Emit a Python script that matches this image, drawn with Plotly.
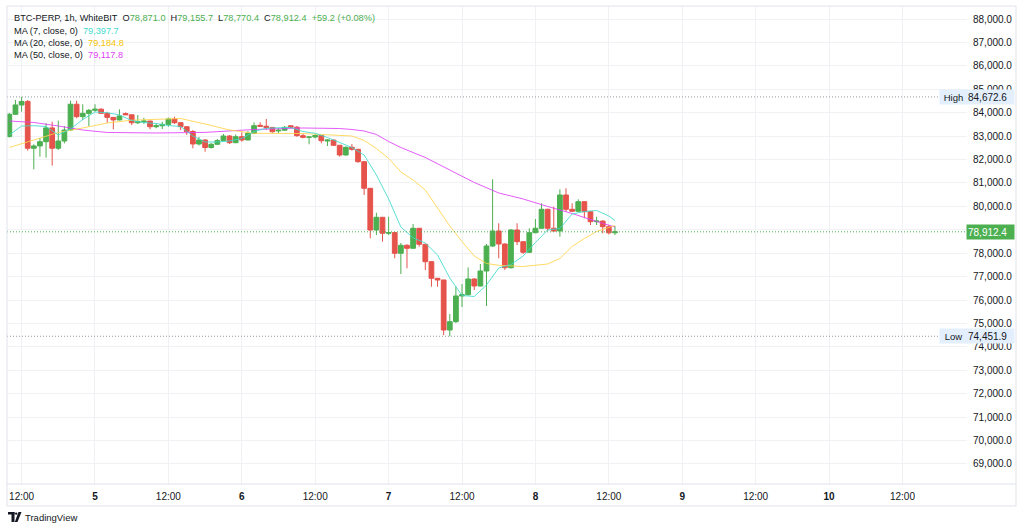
import pandas as pd
import plotly.graph_objects as go

# ---------------- data ----------------
start_time = "2025-04-04 10:00"
n_candles = 100

opens = [82980, 83930, 84330, 84480, 82480, 82580, 82760, 83350, 82480, 82790,
         83260, 84360, 83830, 83970, 84100, 84150, 83970, 83800, 83690, 83960,
         83910, 83570, 83610, 83640, 83400, 83440, 83500, 83730, 83572, 83400,
         83196, 82662, 82833, 82513, 82650, 82807, 83004, 82718, 82974, 82833,
         83119, 83460, 83420, 83370, 83220, 83250, 83440, 83380, 83017, 82948,
         82961, 83025, 82790, 82830, 82607, 82192, 82522, 82436, 81907, 80771,
         78990, 79533, 78850, 78880, 77995, 78337, 78209, 79063, 78380, 77637,
         76928, 76855, 74720, 75075, 76172, 76227, 76898, 76599, 77239, 78307,
         78947, 78393, 77380, 78990, 78491, 78038, 78875, 79063, 79874, 79063,
         78947, 80485, 79874, 79789, 80199, 79772, 79345, 79370, 79130, 78871.0]
highs = [83990, 84540, 84672.6, 84540, 82650, 82920, 83550, 83615, 83660, 83430,
         84510, 84510, 84360, 84160, 84360, 84190, 84040, 83810, 84140, 84010,
         83920, 83900, 83780, 83660, 83546, 83614, 83785, 83828, 83602, 83420,
         83260, 82961, 82860, 82705, 82876, 83090, 83040, 83068, 83162, 83218,
         83589, 83589, 83730, 83380, 83333, 83431, 83461, 83431, 83089, 82983,
         83076, 83040, 82870, 82850, 82620, 82556, 82662, 82450, 81920, 80780,
         79729, 79540, 79558, 78900, 78435, 78380, 79246, 79076, 78400, 77667,
         76940, 76870, 75404, 76569, 76684, 77389, 76928, 77538, 78392, 81155,
         79276, 78420, 79033, 79276, 78520, 79063, 79460, 80130, 79900, 79985,
         80728, 80771, 80130, 80301, 80228, 79800, 79558, 79400, 79204, 79155.7]
lows = [82940, 83900, 84040, 82380, 81580, 82120, 82080, 81740, 82410, 82690,
        83220, 83760, 83690, 83430, 84040, 83960, 83570, 83290, 83670, 83900,
        83470, 83516, 83520, 83290, 83333, 83300, 83400, 83516, 83260, 83047,
        82478, 82598, 82334, 82470, 82620, 82790, 82662, 82700, 82761, 82820,
        83089, 83401, 83260, 83145, 83119, 83220, 83346, 82974, 82906, 82650,
        82906, 82692, 82577, 82577, 82120, 82170, 82376, 81864, 80485, 78635,
        78777, 78491, 78777, 77782, 77111, 77355, 78200, 78277, 77282, 76569,
        76569, 74500, 74451.9, 75019, 75702, 76194, 76428, 76580, 75745, 78260,
        77782, 77282, 77340, 78350, 77965, 78010, 78850, 79050, 78947, 78917,
        78704, 79772, 79759, 79770, 79490, 79204, 79204, 78849, 78800, 78770.4]
closes = [83930, 84330, 84480, 82480, 82580, 82760, 83350, 82480, 82790, 83260,
          84360, 83830, 83970, 84100, 84150, 83970, 83800, 83690, 83860, 83910,
          83570, 83610, 83640, 83400, 83440, 83500, 83730, 83572, 83401, 83196,
          82662, 82833, 82513, 82650, 82807, 83004, 82718, 82974, 82833, 83119,
          83444, 83420, 83370, 83188, 83250, 83375, 83380, 83017, 82948, 82961,
          83025, 82803, 82830, 82607, 82192, 82522, 82436, 81907, 80771, 78990,
          79533, 78850, 78880, 77995, 78337, 78209, 79063, 78380, 77637, 76928,
          76855, 74720, 75075, 76172, 76227, 76898, 76599, 77239, 78307, 78947,
          78393, 77380, 78990, 78491, 78038, 78875, 79063, 79874, 79063, 78947,
          80485, 79874, 79789, 80199, 79772, 79345, 79370, 79131, 78870, 78912.4]

# moving averages (hour offset from first candle -> value)
ma7_hours = [0, 2, 4, 6, 8, 10, 12, 14, 16, 18, 20, 22, 24, 26, 28, 30, 32, 34, 36, 38,
             40, 42, 44, 46, 48, 50, 52, 54, 56, 58, 60, 62, 64, 66, 68, 70, 72, 74,
             76, 78, 80, 82, 84, 86, 88, 90, 92, 94, 96, 98, 99]
ma7_vals = [83047, 83431, 83444, 83410, 83047, 83303, 83709, 84029, 83999, 83901,
            83666, 83580, 83538, 83452, 83410, 83004, 82748, 82748, 82791, 82897,
            83196, 83333, 83358, 83367, 83196, 83119, 82939, 82726, 82513, 82192,
            81339, 80314, 79118, 78657, 78435, 77923, 76941, 76194, 76151, 76642,
            77367, 77517, 77880, 78456, 78990, 79054, 79673, 79780, 79823, 79588, 79397.7]
ma20_hours = [0, 4, 8, 12, 16, 20, 24, 28, 32, 36, 40, 44, 48, 52, 56, 58, 60, 62, 64,
              66, 68, 70, 72, 74, 76, 78, 80, 84, 88, 90, 92, 94, 96, 98, 99]
ma20_vals = [82513, 82833, 83154, 83346, 83559, 83679, 83721, 83751, 83516, 83260,
             83119, 83119, 83110, 83055, 83004, 82812, 82470, 82050, 81467, 81125,
             80698, 79930, 79161, 78499, 77880, 77560, 77483, 77432, 77538, 77773,
             78285, 78627, 78926, 79097, 79184.8]
ma50_hours = [0, 4, 8, 12, 16, 24, 32, 40, 48, 54, 56, 58, 60, 62, 64, 68, 72, 76, 80,
              84, 88, 92, 96, 99]
ma50_vals = [83645, 83581, 83431, 83260, 83154, 83132, 83158, 83282, 83346, 83324,
             83282, 83218, 83068, 82769, 82513, 82086, 81552, 81019, 80571, 80314,
             79994, 79695, 79353, 79117.8]

high_value = 84672.6
low_value = 74451.9
last_close = 78912.4
change_abs = 59.2
change_pct = 0.08

grid_prices = list(range(69000, 88001, 1000))
hidden_price_labels = [79000]          # covered by the last-price marker in the reference
price_ticks = [p for p in grid_prices if p not in hidden_price_labels]
time_tick_times = ["2025-04-04 12:00", "2025-04-05 00:00", "2025-04-05 12:00",
                   "2025-04-06 00:00", "2025-04-06 12:00", "2025-04-07 00:00",
                   "2025-04-07 12:00", "2025-04-08 00:00", "2025-04-08 12:00",
                   "2025-04-09 00:00", "2025-04-09 12:00", "2025-04-10 00:00",
                   "2025-04-10 12:00"]
time_tick_text = ["12:00", "<b>5</b>", "12:00", "<b>6</b>", "12:00", "<b>7</b>",
                  "12:00", "<b>8</b>", "12:00", "<b>9</b>", "12:00", "<b>10</b>", "12:00"]

# ---------------- styling ----------------
UP = "#4caf50"
DOWN = "#e5534b"
C_MA7 = "#3fdccf"
C_MA20 = "#ffd54a"
C_MA50 = "#e040fb"
TEXT = "#131722"
GRID = "#f0f1f4"
FONT = "Liberation Sans"

times = pd.date_range(start_time, periods=n_candles, freq="h")
t0 = times[0]

def hour_times(hours):
    return [t0 + pd.Timedelta(hours=h) for h in hours]

# pane in pixels
PL, PR, PT, PB = 7, 967, 6, 484
W, H = 1024, 530

def px(x):
    return (x - PL) / (PR - PL)

def py(y):
    return (PB - y) / (PB - PT)

fig = go.Figure()
fig.add_trace(go.Candlestick(
    x=times, open=opens, high=highs, low=lows, close=closes,
    increasing=dict(line=dict(color=UP, width=1), fillcolor=UP),
    decreasing=dict(line=dict(color=DOWN, width=1), fillcolor=DOWN),
    whiskerwidth=0, hoverinfo="skip", showlegend=False,
))
for hrs, vals, col in [(ma50_hours, ma50_vals, C_MA50),
                       (ma20_hours, ma20_vals, C_MA20),
                       (ma7_hours, ma7_vals, C_MA7)]:
    fig.add_trace(go.Scatter(x=hour_times(hrs), y=vals, mode="lines",
                             line=dict(color=col, width=1), opacity=0.85,
                             hoverinfo="skip", showlegend=False))

x_left = t0 - pd.Timedelta(minutes=23)
x_right = t0 + pd.Timedelta(minutes=int(156.55 * 60))
y_bottom, y_top = 68144, 88555

DOTS = "1px,2px"
shapes = []
# grid lines whose labels are hidden
for p in hidden_price_labels:
    shapes.append(dict(type="line", xref="paper", yref="y", x0=0, x1=1, y0=p, y1=p,
                       layer="below", line=dict(color=GRID, width=1)))
# high / low dotted lines
shapes.append(dict(type="line", xref="paper", yref="y", x0=0, x1=px(939),
                   y0=high_value, y1=high_value, line=dict(color="#9598a1", width=1, dash=DOTS)))
shapes.append(dict(type="line", xref="paper", yref="y", x0=0, x1=px(939),
                   y0=low_value, y1=low_value, line=dict(color="#9598a1", width=1, dash=DOTS)))
# last price line
shapes.append(dict(type="line", xref="paper", yref="y", x0=0, x1=1,
                   y0=last_close, y1=last_close, line=dict(color=UP, width=1, dash=DOTS)))
# widget border and time-scale separator
shapes.append(dict(type="rect", xref="paper", yref="paper", x0=px(7), x1=px(1016),
                   y0=py(506), y1=py(6), line=dict(color="#e0e3eb", width=1)))
shapes.append(dict(type="line", xref="paper", yref="paper", x0=px(7), x1=px(1016),
                   y0=py(484), y1=py(484), line=dict(color="#e0e3eb", width=1)))
# TradingView logo
shapes.append(dict(type="rect", xref="paper", yref="paper", x0=px(8), x1=px(14.5),
                   y0=py(514.5), y1=py(512), fillcolor="#131722", line=dict(width=0)))
shapes.append(dict(type="rect", xref="paper", yref="paper", x0=px(11.5), x1=px(14.5),
                   y0=py(522), y1=py(512), fillcolor="#131722", line=dict(width=0)))
shapes.append(dict(type="circle", xref="paper", yref="paper", x0=px(15), x1=px(17.4),
                   y0=py(514.8), y1=py(512.4), fillcolor="#131722", line=dict(width=0)))
shapes.append(dict(type="path", xref="paper", yref="paper",
                   path=f"M {px(18.5)},{py(512)} L {px(21.5)},{py(512)} L {px(17.5)},{py(522)} L {px(14.8)},{py(522)} Z",
                   fillcolor="#131722", line=dict(width=0)))

annotations = []
def ann(x, y, text, color=TEXT, size=9, xanchor="left", bg=None, width=None, height=None, yref="paper", align="left"):
    d = dict(xref="paper", yref=yref, x=x, y=y, text=text, showarrow=False,
             xanchor=xanchor, yanchor="middle", align=align,
             font=dict(family=FONT, size=size, color=color))
    if bg:
        d["bgcolor"] = bg
    if width:
        d["width"] = width
    if height:
        d["height"] = height
    annotations.append(d)

def g(v):
    return f"<span style='color:{UP}'>{v}</span>"

sp = "\u00a0\u00a0"
sp1 = "\u00a0"
line1 = ("BTC-PERP, 1h, WhiteBIT" + sp + "O" + g(f"{opens[-1]:,.1f}") + sp + "H" + g(f"{highs[-1]:,.1f}")
         + sp + "L" + g(f"{lows[-1]:,.1f}") + sp + "C" + g(f"{closes[-1]:,.1f}") + sp
         + g(f"+{change_abs:.1f} (+{change_pct:.2f}%)"))
LEG = 9.2
ann(px(12), py(18.3), line1, size=LEG)
ann(px(12), py(30.7), "MA (7, close, 0)" + sp + f"<span style='color:{C_MA7}'>{ma7_vals[-1]:,.1f}</span>", size=LEG)
ann(px(12), py(43.0), "MA (20, close, 0)" + sp + f"<span style='color:#f5c400'>{ma20_vals[-1]:,.1f}</span>", size=LEG)
ann(px(12), py(55.2), "MA (50, close, 0)" + sp + f"<span style='color:{C_MA50}'>{ma50_vals[-1]:,.1f}</span>", size=LEG)

# price-scale labels: high, low, last
HL_BG = "#e3effd"
ann(px(939), high_value, "High", bg=HL_BG, width=25, height=12, yref="y", size=9.5, align="center")
ann(px(966), high_value, f"{high_value:,.1f}", bg=HL_BG, width=45, height=12, yref="y", size=10, align="left")
ann(px(939), low_value, "Low", bg=HL_BG, width=25, height=12, yref="y", size=9.5, align="center")
ann(px(966), low_value, f"{low_value:,.1f}", bg=HL_BG, width=45, height=12, yref="y", size=10, align="left")
ann(px(966), last_close, f"{last_close:,.1f}", color="white", bg=UP, width=45, height=12, yref="y", size=10, align="left")
# TradingView wordmark
ann(px(22.5), py(517.5), "TradingView", size=9.5)

fig.update_layout(
    width=W, height=H,
    margin=dict(l=PL, r=W - PR, t=PT, b=H - PB, pad=0),
    paper_bgcolor="white", plot_bgcolor="white",
    font=dict(family=FONT, size=10, color=TEXT),
    showlegend=False,
    boxgap=0.1, boxgroupgap=0.14,
    xaxis=dict(type="date", range=[x_left, x_right], rangeslider=dict(visible=False),
               tickvals=time_tick_times, ticktext=time_tick_text, tickangle=0,
               showgrid=True, gridcolor=GRID, gridwidth=1, zeroline=False,
               showline=False, ticks="", ticklabelstandoff=5,
               tickfont=dict(family=FONT, size=10, color=TEXT), fixedrange=True),
    yaxis=dict(side="right", range=[y_bottom, y_top], tickvals=price_ticks,
               tickformat=",.1f", showgrid=True, gridcolor=GRID, gridwidth=1,
               zeroline=False, showline=False, ticks="", ticklabelstandoff=5,
               tickfont=dict(family=FONT, size=10, color=TEXT), fixedrange=True),
    shapes=shapes, annotations=annotations,
    hovermode=False,
)

fig.write_html("out.html", config={"displayModeBar": False})
